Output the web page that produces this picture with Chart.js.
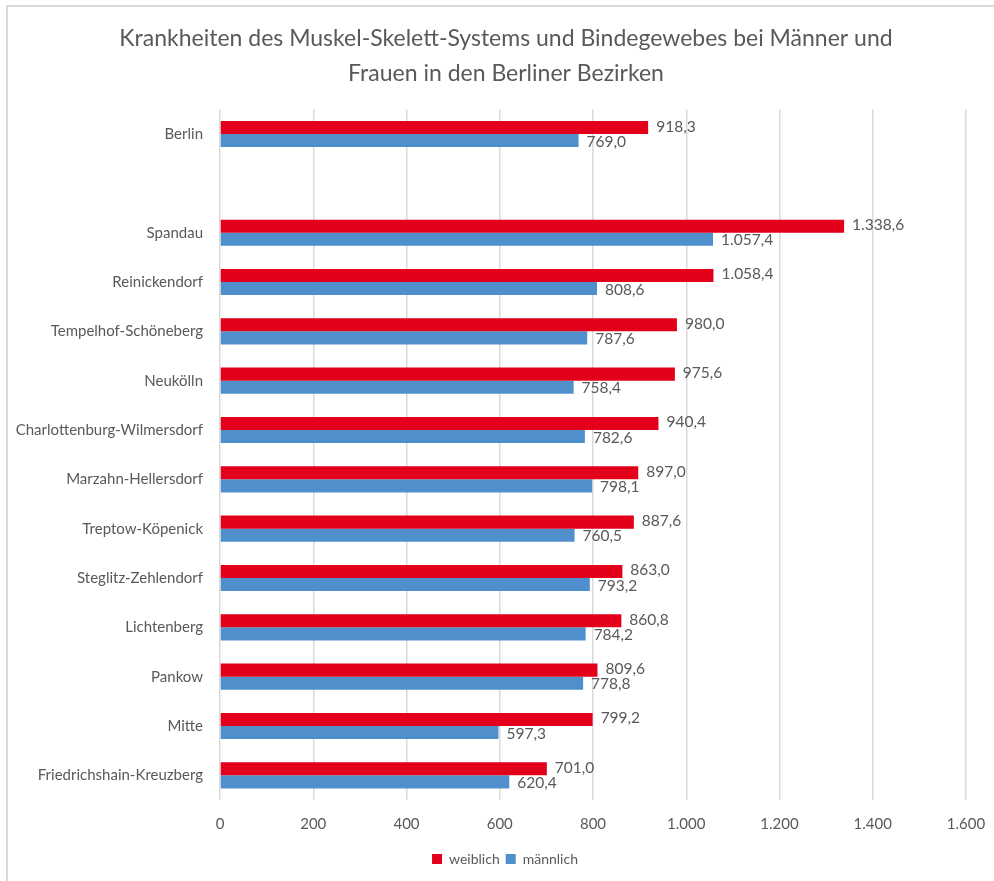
<!DOCTYPE html>
<html lang="de">
<head>
<meta charset="utf-8">
<title>Krankheiten des Muskel-Skelett-Systems</title>
<script src="https://cdn.jsdelivr.net/npm/chart.js@4/dist/chart.umd.min.js"></script>
<style>
  html, body { margin: 0; padding: 0; background: #ffffff; }
  #wrap { position: relative; width: 994px; height: 881px; }
  #frame {
    position: absolute; left: 6px; top: 5px; right: 0; bottom: 0;
    border-top: 2px solid #d9d9d9; border-left: 2px solid #d9d9d9;
    pointer-events: none;
  }
  canvas { position: absolute; left: 0; top: 0; }
</style>
</head>
<body>
<div id="wrap">
  <canvas id="chart" width="994" height="881"></canvas>
  <div id="frame"></div>
</div>
<script>
// Bezirke (leere Kategorie trennt Berlin gesamt von den Bezirken)
const categories = [
  'Berlin', '',
  'Spandau', 'Reinickendorf', 'Tempelhof-Schöneberg', 'Neukölln',
  'Charlottenburg-Wilmersdorf', 'Marzahn-Hellersdorf', 'Treptow-Köpenick',
  'Steglitz-Zehlendorf', 'Lichtenberg', 'Pankow', 'Mitte', 'Friedrichshain-Kreuzberg'
];
const weiblich = [918.3, null, 1338.6, 1058.4, 980.0, 975.6, 940.4, 897.0, 887.6, 863.0, 860.8, 809.6, 799.2, 701.0];
const maennlich = [769.0, null, 1057.4, 808.6, 787.6, 758.4, 782.6, 798.1, 760.5, 793.2, 784.2, 778.8, 597.3, 620.4];
const seriesNames = ['weiblich', 'männlich'];
const axisTicks = [0, 200, 400, 600, 800, 1000, 1200, 1400, 1600];

const FONT = 'Lato, "Open Sans", sans-serif';
const TEXT = '#595959';

// Zahlen im deutschen Format: Tausenderpunkt, Dezimalkomma
function fmtDe(v, decimals) {
  const fixed = v.toFixed(decimals);
  const parts = fixed.split('.');
  const intPart = parts[0].replace(/\B(?=(\d{3})+(?!\d))/g, '.');
  return parts.length > 1 ? intPart + ',' + parts[1] : intPart;
}

// Titel und Legende etwas rechts der Mitte ausrichten
const blockShift = {
  id: 'blockShift',
  afterLayout(chart) {
    const tb = chart.titleBlock;
    if (tb) { tb.left = 18; tb.right = chart.width; }
    const lg = chart.legend;
    if (lg) { lg.left = 16; lg.right = chart.width; }
  }
};

// Werte rechts neben jedem Balken
const valueLabels = {
  id: 'valueLabels',
  afterDatasetsDraw(chart) {
    const ctx = chart.ctx;
    ctx.save();
    ctx.font = '15.5px ' + FONT;
    ctx.fillStyle = TEXT;
    ctx.textAlign = 'left';
    ctx.textBaseline = 'middle';
    chart.data.datasets.forEach((ds, di) => {
      const meta = chart.getDatasetMeta(di);
      meta.data.forEach((bar, i) => {
        const v = ds.data[i];
        if (v === null || v === undefined) return;
        ctx.fillText(fmtDe(v, 1), bar.x + 8, bar.y + (di === 0 ? -1 : 1));
      });
    });
    ctx.restore();
  }
};

new Chart(document.getElementById('chart'), {
  type: 'bar',
  data: {
    labels: categories,
    datasets: [
      { label: seriesNames[0], data: weiblich, backgroundColor: '#E2001A',
        categoryPercentage: 0.53, barPercentage: 1.0 },
      { label: seriesNames[1], data: maennlich, backgroundColor: '#4F8FCC',
        categoryPercentage: 0.53, barPercentage: 1.0 }
    ]
  },
  options: {
    indexAxis: 'y',
    responsive: false,
    animation: false,
    layout: { padding: { top: 21, left: 0, right: 28, bottom: 5 } },
    plugins: {
      title: {
        display: true,
        text: ['Krankheiten des Muskel-Skelett-Systems und Bindegewebes bei Männer und',
               'Frauen in den Berliner Bezirken'],
        color: TEXT,
        font: { family: FONT, size: 23, weight: 'normal', lineHeight: 1.53 },
        padding: { top: 0, bottom: 18 }
      },
      legend: {
        position: 'bottom',
        labels: {
          color: TEXT,
          font: { family: FONT, size: 14 },
          boxWidth: 10, boxHeight: 10, padding: 6
        }
      },
      tooltip: { enabled: false }
    },
    scales: {
      x: {
        min: axisTicks[0],
        max: axisTicks[axisTicks.length - 1],
        afterBuildTicks(scale) { scale.ticks = axisTicks.map(v => ({ value: v })); },
        afterFit(scale) { scale.height = 46; scale.paddingLeft = 0; scale.paddingRight = 0; },
        grid: { color: '#d9d9d9', lineWidth: 1.5, drawTicks: false },
        border: { display: false },
        ticks: {
          color: TEXT, padding: 15,
          font: { family: FONT, size: 15 },
          callback: v => fmtDe(v, 0)
        }
      },
      y: {
        afterFit(scale) { scale.width = 220; },
        grid: { display: false, drawTicks: false },
        border: { display: false },
        ticks: {
          color: TEXT, padding: 17, autoSkip: false,
          font: { family: FONT, size: 15 }
        }
      }
    }
  },
  plugins: [blockShift, valueLabels]
});
</script>
</body>
</html>
